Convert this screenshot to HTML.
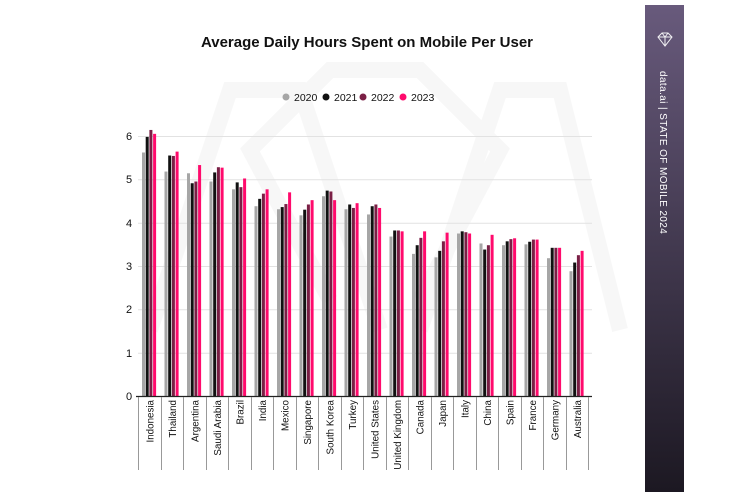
<!DOCTYPE html>
<html><head><meta charset="utf-8"><style>
html,body{margin:0;padding:0;background:#fff;}
svg{display:block;font-family:"Liberation Sans",sans-serif;}
</style></head><body>
<svg width="750" height="500" viewBox="0 0 750 500" xmlns="http://www.w3.org/2000/svg">
<defs><linearGradient id="g" x1="0" y1="0" x2="0" y2="1"><stop offset="0" stop-color="#685a7c"/><stop offset="1" stop-color="#1c1822"/></linearGradient></defs>
<rect x="0" y="0" width="750" height="500" fill="#fff"/>
<g fill="none" stroke="#f7f7f7" stroke-width="16">
<polyline points="150,330 230,90 300,90 380,330"/>
<polyline points="330,300 250,150 330,70 420,70 500,150 420,300"/>
<polyline points="420,330 500,90 560,90 620,330"/>
</g>
<g stroke="#e2e2e2" stroke-width="1">
<line x1="138" x2="592" y1="136.5" y2="136.5"/>
<line x1="138" x2="592" y1="179.8" y2="179.8"/>
<line x1="138" x2="592" y1="223.2" y2="223.2"/>
<line x1="138" x2="592" y1="266.5" y2="266.5"/>
<line x1="138" x2="592" y1="309.8" y2="309.8"/>
<line x1="138" x2="592" y1="353.2" y2="353.2"/>
</g>
<g font-size="11" fill="#111" text-anchor="middle">
<text x="129" y="140">6</text><text x="129" y="183">5</text><text x="129" y="227">4</text>
<text x="129" y="270">3</text><text x="129" y="313">2</text><text x="129" y="357">1</text><text x="129" y="400">0</text>
</g>
<text x="367" y="47" font-size="15" font-weight="bold" text-anchor="middle" fill="#111">Average Daily Hours Spent on Mobile Per User</text>
<g font-size="10.5" fill="#111">
<circle cx="286" cy="97" r="3.5" fill="#a6a6a6"/><text x="294" y="101">2020</text>
<circle cx="326" cy="97" r="3.5" fill="#111"/><text x="334" y="101">2021</text>
<circle cx="363" cy="97" r="3.5" fill="#7a1f45"/><text x="371" y="101">2022</text>
<circle cx="403" cy="97" r="3.5" fill="#ff0a6c"/><text x="411" y="101">2023</text>
</g>
<g id="bars"></g>
<line x1="136" x2="592" y1="396.5" y2="396.5" stroke="#222" stroke-width="1.2"/>
<g id="divs" stroke="#999" stroke-width="1"></g>
<g id="labels" font-size="9.8" fill="#111"></g>
<rect x="645" y="5" width="39" height="487" fill="url(#g)"/>
<g stroke="#fff" stroke-width="1" fill="none" opacity="0.9">
<polygon points="658,37 662,33 668,33 672,37 665,46"/><line x1="658" y1="37" x2="672" y2="37"/><polyline points="662,33 665,37 668,33"/><polyline points="665,37 665,46"/>
</g>
<text transform="translate(660,71) rotate(90)" font-size="10" fill="#fff" letter-spacing="0.4">data.ai | STATE OF MOBILE  2024</text>
<script>
var d=[["Indonesia",5.62,5.98,6.14,6.05],["Thailand",5.18,5.55,5.54,5.64],["Argentina",5.14,4.91,4.95,5.33],["Saudi Arabia",4.95,5.16,5.28,5.27],["Brazil",4.77,4.93,4.82,5.02],["India",4.38,4.55,4.67,4.77],["Mexico",4.31,4.36,4.43,4.70],["Singapore",4.17,4.30,4.42,4.52],["South Korea",4.61,4.74,4.72,4.52],["Turkey",4.31,4.42,4.34,4.45],["United States",4.19,4.38,4.42,4.34],["United Kingdom",3.68,3.82,3.82,3.80],["Canada",3.28,3.48,3.65,3.80],["Japan",3.20,3.35,3.57,3.77],["Italy",3.75,3.80,3.78,3.75],["China",3.52,3.38,3.48,3.72],["Spain",3.48,3.57,3.62,3.64],["France",3.50,3.56,3.61,3.61],["Germany",3.18,3.42,3.42,3.42],["Australia",2.88,3.08,3.25,3.35]];
var c=["#a6a6a6","#111","#7a1f45","#ff0a6c"],ns="http://www.w3.org/2000/svg";
var B=document.getElementById("bars"),D=document.getElementById("divs"),L=document.getElementById("labels");
var x0=138,w=22.5,y0=396,u=43.33;
for(var i=0;i<=20;i++){var l=document.createElementNS(ns,"line");var x=Math.round(x0+i*w)+0.5;l.setAttribute("x1",x);l.setAttribute("x2",x);l.setAttribute("y1",397);l.setAttribute("y2",470);D.appendChild(l);}
d.forEach(function(r,i){var gx=x0+i*w+4;for(var k=0;k<4;k++){var h=r[k+1]*u;var e=document.createElementNS(ns,"rect");e.setAttribute("x",gx+k*3.7);e.setAttribute("y",y0-h);e.setAttribute("width",3);e.setAttribute("height",h);e.setAttribute("fill",c[k]);B.appendChild(e);}
var t=document.createElementNS(ns,"text");var cx=x0+i*w+w/2+4;t.setAttribute("transform","translate("+cx+",400) rotate(-90)");t.setAttribute("text-anchor","end");t.textContent=r[0];L.appendChild(t);});
</script>
</svg>
</body></html>
